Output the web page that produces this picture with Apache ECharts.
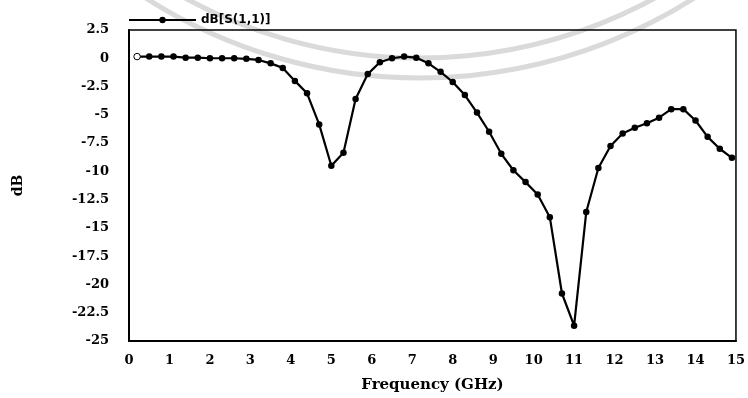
<!DOCTYPE html>
<html>
<head>
<meta charset="utf-8">
<script src="https://cdn.jsdelivr.net/npm/echarts@6/dist/echarts.min.js"></script>
<style>
  html, body { margin: 0; padding: 0; background: #fff; }
  #chart { width: 748px; height: 398px; }
</style>
</head>
<body>
<div id="chart"></div>
<script>
// frequency sweep (GHz)
const freq = [0.2, 0.5, 0.8, 1.1, 1.4, 1.7, 2.0, 2.3, 2.6, 2.9,
  3.2, 3.5, 3.8, 4.1, 4.4, 4.7, 5.0, 5.3, 5.6, 5.9,
  6.2, 6.5, 6.8, 7.1, 7.4, 7.7, 8.0, 8.3, 8.6, 8.9,
  9.2, 9.5, 9.8, 10.1, 10.4, 10.7, 11.0, 11.3, 11.6, 11.9,
  12.2, 12.5, 12.8, 13.1, 13.4, 13.7, 14.0, 14.3, 14.6, 14.9]
// dB[S(1,1)]
const s11 = [0.15, 0.15, 0.15, 0.15, 0.05, 0.05, 0.0, 0.0, 0.0, -0.05,
  -0.15, -0.45, -0.85, -2.0, -3.1, -5.85, -9.5, -8.35, -3.6, -1.4,
  -0.35, 0.0, 0.15, 0.05, -0.45, -1.2, -2.1, -3.25, -4.8, -6.5,
  -8.45, -9.9, -10.95, -12.05, -14.05, -20.8, -23.65, -13.6, -9.7, -7.75,
  -6.65, -6.15, -5.75, -5.25, -4.5, -4.5, -5.5, -6.95, -8.0, -8.8]
const yTicks = [2.5, 0, -2.5, -5, -7.5, -10, -12.5, -15, -17.5, -20, -22.5, -25]

const chart = echarts.init(document.getElementById('chart'))

// first marker is drawn hollow in the original
const points = freq.map((f, i) => {
  if (i === 0) {
    return { value: [f, s11[i]], itemStyle: { color: '#fff', borderColor: '#000', borderWidth: 1 } }
  }
  return [f, s11[i]]
})

const tickFont = {
  color: '#000',
  fontFamily: 'DejaVu Serif',
  fontWeight: 'bold',
  fontSize: 13
}

// faint watermark bands of the scanned page
const wmArc = (r) => ({
  type: 'arc',
  silent: true,
  z: -10,
  shape: { cx: 420, cy: -432, r: r, startAngle: 0.75, endAngle: 2.2 },
  style: { stroke: '#dadada', lineWidth: 5, fill: null }
})

chart.setOption({
  animation: false,
  backgroundColor: '#fff',
  graphic: [wmArc(490), wmArc(510)],
  legend: {
    left: 128,
    top: 14,
    padding: 0,
    itemWidth: 67,
    itemHeight: 8,
    itemGap: 12,
    textStyle: {
      color: '#000',
      fontFamily: 'DejaVu Sans',
      fontWeight: 'bold',
      fontSize: 12
    },
    data: ['dB[S(1,1)]']
  },
  grid: {
    left: 129,
    right: 9,
    top: 30,
    bottom: 56,
    show: true,
    borderColor: '#000',
    borderWidth: 1.5
  },
  xAxis: {
    type: 'value',
    min: 0,
    max: 15,
    interval: 1,
    name: 'Frequency (GHz)',
    nameLocation: 'middle',
    nameGap: 37,
    nameTextStyle: {
      color: '#000',
      fontFamily: 'DejaVu Serif',
      fontWeight: 'bold',
      fontSize: 15
    },
    axisLine: { show: true, onZero: false, lineStyle: { color: '#000', width: 2 } },
    axisTick: { show: false },
    splitLine: { show: false },
    axisLabel: Object.assign({ margin: 13 }, tickFont)
  },
  yAxis: {
    type: 'value',
    min: -25,
    max: 2.5,
    interval: 2.5,
    name: 'dB',
    nameLocation: 'middle',
    nameGap: 104,
    nameTextStyle: {
      color: '#000',
      fontFamily: 'DejaVu Serif',
      fontWeight: 'bold',
      fontSize: 14
    },
    axisLine: { show: true, onZero: false, lineStyle: { color: '#000', width: 2 } },
    axisTick: { show: false },
    splitLine: { show: false },
    axisLabel: Object.assign({
      margin: 20,
      formatter: (v) => (yTicks.indexOf(v) >= 0 ? String(v) : '')
    }, tickFont)
  },
  series: [
    {
      name: 'dB[S(1,1)]',
      type: 'line',
      z: 3,
      data: points,
      symbol: 'circle',
      symbolSize: 6.5,
      lineStyle: { color: '#000', width: 2.2 },
      itemStyle: { color: '#000' }
    }
  ]
})
</script>
</body>
</html>
